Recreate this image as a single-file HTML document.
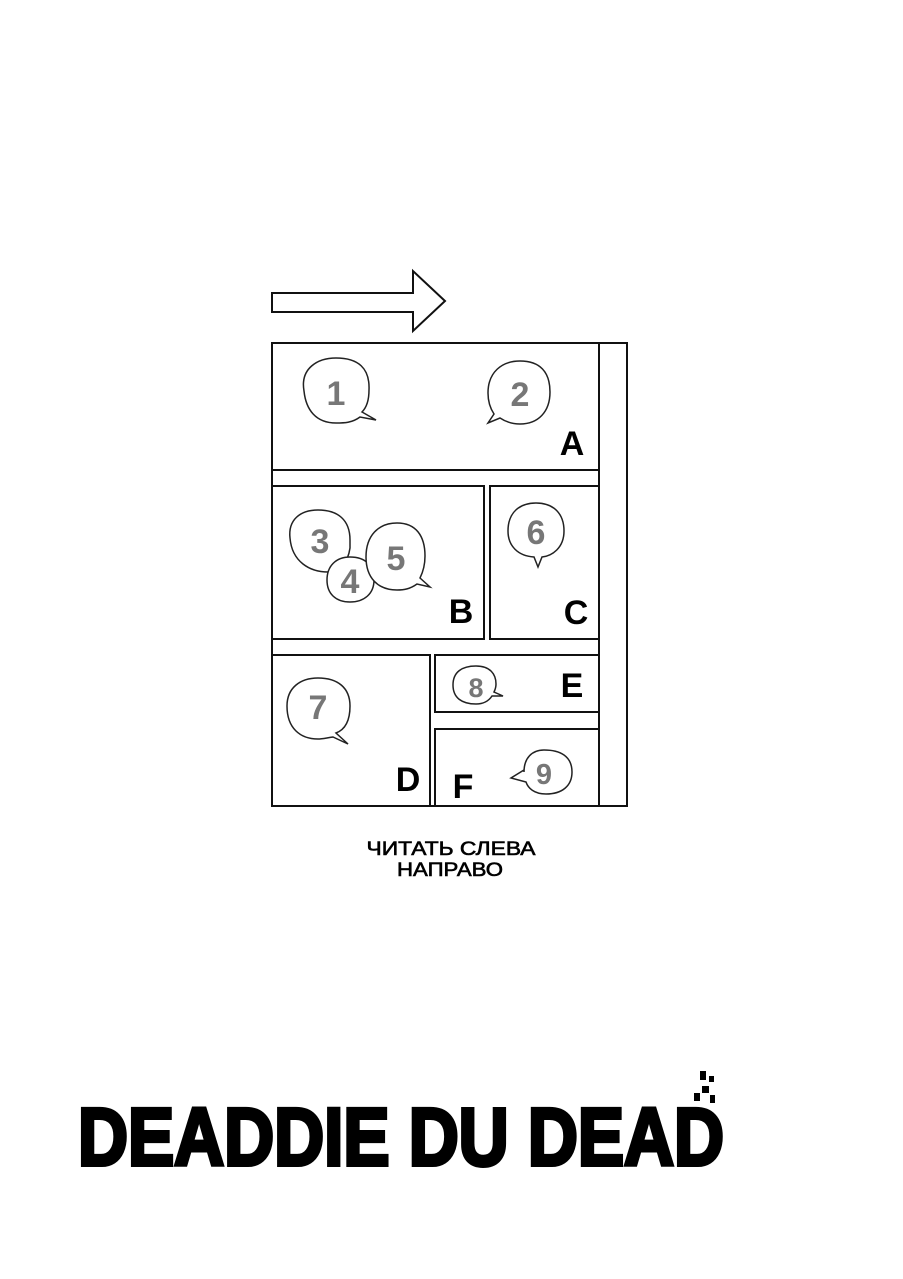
<!DOCTYPE html>
<html><head><meta charset="utf-8"><style>
html,body{margin:0;padding:0;background:#fff;}
svg{display:block;}
</style></head><body>
<svg width="903" height="1279" viewBox="0 0 903 1279" xmlns="http://www.w3.org/2000/svg">
<rect width="903" height="1279" fill="#fff"/>
<g fill="#fff" stroke="#111" stroke-width="2">
<polygon points="272,293 413,293 413,271 445,301 413,331 413,312 272,312"/>
<rect x="272" y="343" width="355" height="463"/>
<line x1="599" y1="343" x2="599" y2="806"/>
<rect x="272" y="343" width="327" height="127"/>
<rect x="272" y="486" width="212" height="153"/>
<rect x="490" y="486" width="109" height="153"/>
<rect x="272" y="655" width="158" height="151"/>
<rect x="435" y="655" width="164" height="57"/>
<rect x="435" y="729" width="164" height="77"/>
</g>
<g fill="#fff" stroke="#222" stroke-width="1.5">
<path d="M304,391 C300,368 318,358 336,358 C358,358 370,368 369,390 C369,402 366,408 362,412 L376,420 L360,417 C352,423 344,423 336,423 C316,423 306,410 304,391 Z"/>
<path d="M488,393 C488,372 502,361 520,361 C540,361 550,372 550,392 C550,412 538,424 520,424 C512,424 506,422 500,418 L488,423 L494,414 C490,408 488,400 488,393 Z"/>
<path d="M290,538 C288,520 300,510 318,510 C338,510 350,520 350,540 L350,548 C348,562 340,572 328,572 C310,572 292,562 290,538 Z"/>
<path d="M327,580 C327,566 336,557 350,557 C366,557 374,566 374,580 C374,594 364,602 350,602 C336,602 327,594 327,580 Z"/>
<path d="M366,557 C366,536 378,523 397,523 C416,523 425,536 425,556 C425,566 422,574 420,578 L430,587 L417,584 C410,589 404,590 397,590 C378,590 366,578 366,557 Z"/>
<path d="M508,531 C508,512 520,503 536,503 C554,503 564,514 564,531 C564,548 552,556 542,557 L538,567 L534,557 C518,556 508,546 508,531 Z"/>
<path d="M287,706 C287,688 300,678 318,678 C338,678 350,688 350,706 C350,722 344,730 336,733 L348,744 L333,737 C326,738 322,739 318,739 C300,739 287,728 287,706 Z"/>
<path d="M453,685 C453,672 462,666 476,666 C490,666 496,674 496,684 C496,688 495,690 494,692 L503,696 L492,696 C488,702 482,704 476,704 C462,704 453,698 453,685 Z"/>
<path d="M524,772 C524,758 532,750 544,750 C560,750 572,756 572,772 C572,786 562,794 546,794 C534,794 528,788 526,782 L511,778 L524,770 Z"/>
</g>
<g fill="#777" font-family="'Liberation Sans',sans-serif" font-weight="bold" font-size="34" text-anchor="middle">
<text x="336" y="405">1</text>
<text x="520" y="406">2</text>
<text x="320" y="553">3</text>
<text x="350" y="593">4</text>
<text x="396" y="570">5</text>
<text x="536" y="544">6</text>
<text x="318" y="719">7</text>
<text x="476" y="697" font-size="27">8</text>
<text x="544" y="784" font-size="29">9</text>
</g>
<g fill="#000" font-family="'Liberation Sans',sans-serif" font-weight="bold" font-size="34" text-anchor="middle">
<text x="572" y="455">A</text>
<text x="461" y="623">B</text>
<text x="576" y="624">C</text>
<text x="408" y="791">D</text>
<text x="572" y="697">E</text>
<text x="463" y="798">F</text>
</g>
<g fill="#000" stroke="#000" stroke-width="0.6" font-family="'Liberation Sans',sans-serif" font-size="19" text-anchor="middle">
<text x="451" y="855" textLength="169" lengthAdjust="spacingAndGlyphs">ЧИТАТЬ СЛЕВА</text>
<text x="450" y="876" textLength="106" lengthAdjust="spacingAndGlyphs">НАПРАВО</text>
</g>
<text x="78" y="1165" font-family="'Liberation Sans Narrow','Liberation Sans',sans-serif" font-weight="bold" font-size="82" textLength="646" lengthAdjust="spacingAndGlyphs" fill="#000" stroke="#000" stroke-width="4">DEADDIE DU DEAD</text>
<g fill="#000">
<rect x="700" y="1071" width="6" height="9"/>
<rect x="709" y="1076" width="5" height="6"/>
<rect x="702" y="1086" width="7" height="7"/>
<rect x="694" y="1093" width="6" height="8"/>
<rect x="710" y="1095" width="5" height="8"/>
</g>
</svg>
</body></html>
